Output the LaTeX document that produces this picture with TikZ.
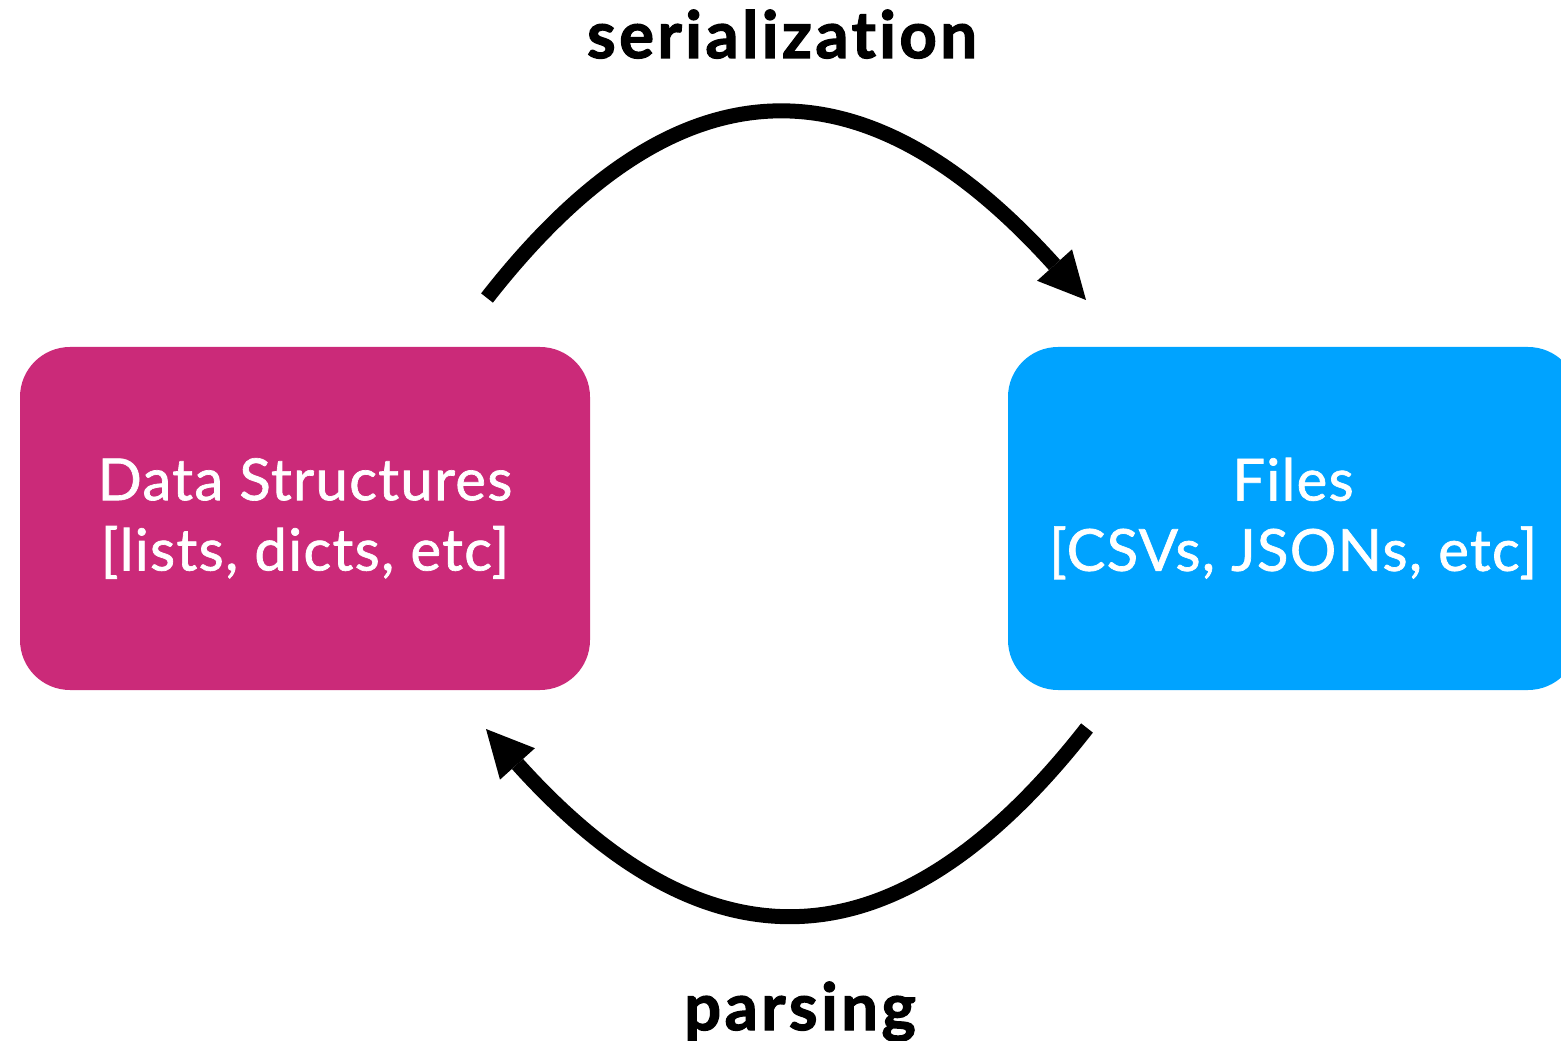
\documentclass[tikz,border=0pt]{standalone}
\usepackage{fontspec}
\setmainfont{Lato}
\newfontfamily\boxfont[FakeBold = 1.2, LetterSpace = 2.3]{Lato}
\newfontfamily\lblfont[Ligatures = NoCommon, FakeBold = 2, LetterSpace = 5.5]{Lato}
\usepackage{tikz}
\usetikzlibrary{arrows.meta}
\usetikzlibrary{positioning}
\definecolor{dsmagenta}{HTML}{CB2A79}
\definecolor{fileblue}{HTML}{00A3FF}
\tikzset{bigarrow/.style = {line width = 0.3cm,
                            -{Triangle[length = 0.94cm, width = 0.94cm, line width = 0pt]}}}
\tikzset{box/.style = {rounded corners = 1cm, minimum width = 11.4cm, minimum height = 6.86cm,
                       text = white, align = center,
                       font = \boxfont\fontsize{33}{40}\selectfont}}
\tikzset{lbl/.style = {anchor = base, font = \lblfont\bfseries\fontsize{37}{44}\selectfont}}

\begin{document}
\begin{tikzpicture}
      \useasboundingbox (0, 0) rectangle (31.22, -20.82);
      \node [box, fill = dsmagenta] (ds) at (6.10, -10.37) {Data Structures\\{[}lists, dicts, etc{]}};
      \node [box, fill = fileblue] (files) at (25.86, -10.37) {Files\\{[}CSVs, JSONs, etc{]}};
      \node [lbl] (ser) at (15.64, -1.16) {serialization};
      \node [lbl] (par) at (16.0, -20.6) {parsing};
      \coordinate (sera) at (9.74, -5.96);
      \coordinate (serb) at (21.72, -6.0);
      \coordinate (para) at (21.74, -14.56);
      \coordinate (parb) at (9.72, -14.58);
      \draw [bigarrow] (sera) .. controls +(52:6.4) and +(132:6.4) .. (serb);
      \draw [bigarrow] (para) .. controls +(-128:6.4) and +(-48:6.4) .. (parb);
\end{tikzpicture}
\end{document}
